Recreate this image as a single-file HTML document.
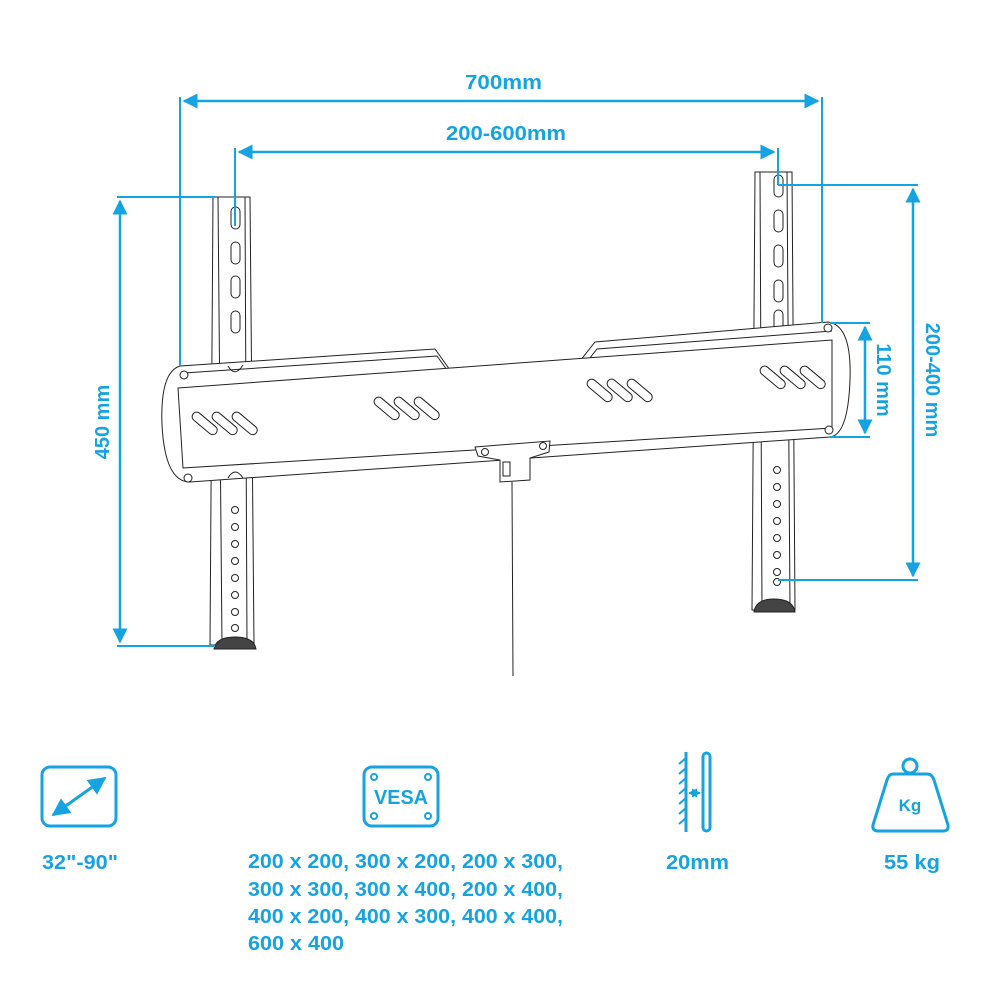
<!DOCTYPE html>
<html><head><meta charset="utf-8"><style>
body{margin:0;background:#fff;width:1000px;height:1000px;overflow:hidden}
svg{display:block}
.t{font-family:"Liberation Sans",sans-serif;font-weight:bold;fill:#16a3e2}
</style></head><body>
<svg width="1000" height="1000" viewBox="0 0 1000 1000" xmlns="http://www.w3.org/2000/svg">
<defs>
<marker id="a" viewBox="0 0 10 10" refX="9" refY="5" markerWidth="6" markerHeight="6" orient="auto-start-reverse"><path d="M0,0L10,5L0,10z" fill="#16a3e2"/></marker>
</defs>
<g stroke="#222" stroke-width="1" fill="#fff">
<path d="M213,197 L250,197 L254,645 L210,645 Z"/>
<path d="M218,197 L222,645 M245,197 L247,645"/>
<rect x="231" y="207" width="9" height="22" rx="4.5"/>
<rect x="231" y="242" width="9" height="22" rx="4.5"/>
<rect x="231" y="276" width="9" height="22" rx="4.5"/>
<rect x="231" y="311" width="9" height="22" rx="4.5"/>
<circle cx="235" cy="510" r="3.5"/><circle cx="235" cy="527" r="3.5"/><circle cx="235" cy="544" r="3.5"/><circle cx="235" cy="561" r="3.5"/><circle cx="235" cy="578" r="3.5"/><circle cx="235" cy="595" r="3.5"/><circle cx="235" cy="612" r="3.5"/><circle cx="235" cy="628" r="3.5"/>
<path d="M214,649 Q216,637 235,637 Q254,637 256,649 Z" fill="#444"/>
<path d="M755,172 L792,172 L795,610 L752,610 Z"/>
<path d="M760,172 L762,610 M787,172 L790,610"/>
<rect x="774" y="175" width="9" height="22" rx="4.5"/>
<rect x="774" y="210" width="9" height="22" rx="4.5"/>
<rect x="774" y="245" width="9" height="22" rx="4.5"/>
<rect x="774" y="280" width="9" height="22" rx="4.5"/>
<rect x="774" y="310" width="9" height="22" rx="4.5"/>
<circle cx="777" cy="470" r="3.5"/><circle cx="777" cy="487" r="3.5"/><circle cx="777" cy="504" r="3.5"/><circle cx="777" cy="521" r="3.5"/><circle cx="777" cy="538" r="3.5"/><circle cx="777" cy="555" r="3.5"/><circle cx="777" cy="572" r="3.5"/><circle cx="777" cy="582" r="3.5"/>
<path d="M754,612 Q756,599 774,599 Q793,599 795,612 Z" fill="#444"/>
<path d="M180,366 L435,349 L450,370 L580,361 L595,342 L828,322 Q852,325 850,380 Q848,435 830,437 L190,482 Q165,482 162,425 Q160,372 180,366 Z"/>
<path d="M184,373 L437,356 L452,377 L582,368 L597,349 L832,331" fill="none"/>
<path d="M178,388 L832,340 L832,428 L183,468 Z"/>
<g fill="#fff">
<rect x="190" y="419" width="30" height="9" rx="4.5" transform="rotate(40 205 423)"/>
<rect x="210" y="419" width="30" height="9" rx="4.5" transform="rotate(40 225 423)"/>
<rect x="230" y="419" width="30" height="9" rx="4.5" transform="rotate(40 245 423)"/>
<rect x="372" y="404" width="30" height="9" rx="4.5" transform="rotate(40 387 408)"/>
<rect x="392" y="404" width="30" height="9" rx="4.5" transform="rotate(40 407 408)"/>
<rect x="412" y="404" width="30" height="9" rx="4.5" transform="rotate(40 427 408)"/>
<rect x="585" y="386" width="30" height="9" rx="4.5" transform="rotate(40 600 390)"/>
<rect x="605" y="386" width="30" height="9" rx="4.5" transform="rotate(40 620 390)"/>
<rect x="625" y="386" width="30" height="9" rx="4.5" transform="rotate(40 640 390)"/>
<rect x="758" y="373" width="30" height="9" rx="4.5" transform="rotate(40 773 377)"/>
<rect x="778" y="373" width="30" height="9" rx="4.5" transform="rotate(40 793 377)"/>
<rect x="798" y="373" width="30" height="9" rx="4.5" transform="rotate(40 813 377)"/>
</g>
<circle cx="184" cy="375" r="4"/><circle cx="188" cy="478" r="4"/>
<circle cx="828" cy="328" r="4"/><circle cx="829" cy="430" r="4"/>
<path d="M228,366 Q235,378 243,365 M228,478 Q235,466 243,478" fill="none"/>
<path d="M475,447 L550,441 L549,452 L530,458 L530,480 L500,482 L500,460 L478,456 Z"/>
<circle cx="485" cy="452" r="3.5"/><circle cx="543" cy="446" r="3.5"/>
<rect x="503" y="462" width="7" height="14"/>
<line x1="512" y1="482" x2="513" y2="676"/>
</g>
<g stroke="#16a3e2" stroke-width="2" fill="none">
<line x1="180" y1="97" x2="180" y2="366"/><line x1="822" y1="97" x2="822" y2="323"/>
<line x1="184" y1="101" x2="818" y2="101" stroke-width="2.5" marker-start="url(#a)" marker-end="url(#a)"/>
<line x1="235" y1="148" x2="235" y2="226"/><line x1="778" y1="148" x2="778" y2="185"/>
<line x1="239" y1="152" x2="774" y2="152" stroke-width="2.5" marker-start="url(#a)" marker-end="url(#a)"/>
<line x1="117" y1="197" x2="215" y2="197"/><line x1="117" y1="646" x2="215" y2="646"/>
<line x1="120" y1="201" x2="120" y2="642" stroke-width="2.5" marker-start="url(#a)" marker-end="url(#a)"/>
<line x1="778" y1="185" x2="918" y2="185"/><line x1="778" y1="580" x2="918" y2="580"/>
<line x1="913" y1="189" x2="913" y2="576" stroke-width="2.5" marker-start="url(#a)" marker-end="url(#a)"/>
<line x1="830" y1="323" x2="870" y2="323"/><line x1="830" y1="437" x2="870" y2="437"/>
<line x1="865" y1="327" x2="865" y2="433" stroke-width="2.5" marker-start="url(#a)" marker-end="url(#a)"/>
</g>
<g class="t" font-size="20">
<text x="465" y="89" textLength="77" lengthAdjust="spacingAndGlyphs">700mm</text>
<text x="446" y="140" textLength="120" lengthAdjust="spacingAndGlyphs">200-600mm</text>
<text text-anchor="middle" transform="translate(109,422) rotate(-90)">450 mm</text>
<text text-anchor="middle" transform="translate(926,380) rotate(90)">200-400 mm</text>
<text text-anchor="middle" transform="translate(877,380) rotate(90)">110 mm</text>
</g>
<g stroke="#16a3e2" stroke-width="3" fill="none">
<rect x="42" y="767" width="74" height="59" rx="8"/>
<line x1="53" y1="815" x2="105" y2="778" marker-start="url(#a)" marker-end="url(#a)"/>
<rect x="364" y="767" width="74" height="59" rx="8"/>
<circle cx="374" cy="777" r="3" stroke-width="2"/><circle cx="428" cy="777" r="3" stroke-width="2"/>
<circle cx="374" cy="816" r="3" stroke-width="2"/><circle cx="428" cy="816" r="3" stroke-width="2"/>
<line x1="686" y1="752" x2="686" y2="832"/>
<path d="M686,758 l-7,6 M686,768 l-7,6 M686,778 l-7,6 M686,788 l-7,6 M686,798 l-7,6 M686,808 l-7,6 M686,818 l-7,6" stroke-width="2"/>
<rect x="703" y="753" width="7" height="78" rx="3.5"/>
<line x1="689" y1="793" x2="700" y2="793" stroke-width="1.5" marker-start="url(#a)" marker-end="url(#a)"/>
<circle cx="910" cy="766" r="7"/>
<path d="M893,774 L927,774 Q932,774 934,780 L948,825 Q949,831 943,831 L878,831 Q872,831 873,825 L887,780 Q889,774 893,774 Z"/>
</g>
<g class="t" font-size="20">
<text x="374" y="804" textLength="54" lengthAdjust="spacingAndGlyphs">VESA</text>
<text x="910" y="811" font-size="17" text-anchor="middle">Kg</text>
<text x="42" y="869" textLength="76" lengthAdjust="spacingAndGlyphs">32"-90"</text>
<text x="248" y="868" textLength="315" lengthAdjust="spacingAndGlyphs">200 x 200, 300 x 200, 200 x 300,</text>
<text x="248" y="896" textLength="315" lengthAdjust="spacingAndGlyphs">300 x 300, 300 x 400, 200 x 400,</text>
<text x="248" y="923" textLength="315" lengthAdjust="spacingAndGlyphs">400 x 200, 400 x 300, 400 x 400,</text>
<text x="248" y="950" textLength="96" lengthAdjust="spacingAndGlyphs">600 x 400</text>
<text x="666" y="869" textLength="63" lengthAdjust="spacingAndGlyphs">20mm</text>
<text x="884" y="869" textLength="56" lengthAdjust="spacingAndGlyphs">55 kg</text>
</g>
</svg>
</body></html>
